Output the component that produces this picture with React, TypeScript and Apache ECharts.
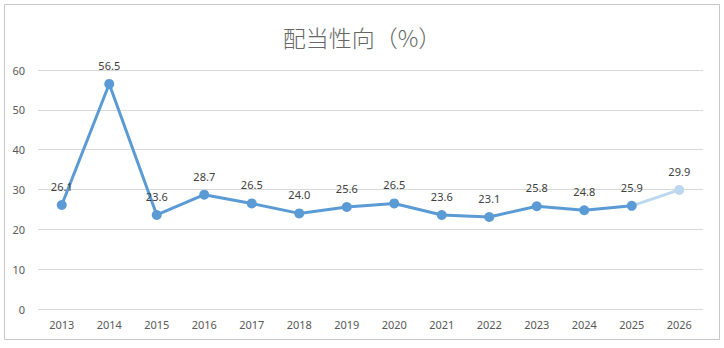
import React, { useEffect, useRef } from "react";
import * as echarts from "echarts";

const categories = ["2013", "2014", "2015", "2016", "2017", "2018", "2019", "2020", "2021", "2022", "2023", "2024", "2025", "2026"];
const actualValues = [26.1, 56.5, 23.6, 28.7, 26.5, 24.0, 25.6, 26.5, 23.6, 23.1, 25.8, 24.8, 25.9];
const forecastValues = [29.9];
const yTicks = [0, 10, 20, 30, 40, 50, 60];
const title = "配当性向（%）";

export default function App() {
  const ref = useRef<HTMLDivElement>(null);
  useEffect(() => {
    if (!ref.current) return;
    const chart = echarts.init(ref.current, undefined, { renderer: "svg" });
    const mainData: (number | null)[] = categories.map((_, i) => (i < actualValues.length ? actualValues[i] : null));
    const lastActualIdx = actualValues.length - 1;
    const forecastData: any[] = categories.map((_, i) => {
      if (i === lastActualIdx) return { value: actualValues[lastActualIdx], symbol: "none", label: { show: false } };
      if (i > lastActualIdx) return forecastValues[i - lastActualIdx - 1];
      return null;
    });
    const labelCfg = {
      show: true,
      position: "top" as const,
      distance: 8,
      fontSize: 11,
      color: "#404040",
      fontFamily: "'Noto Sans', sans-serif",
      formatter: (p: any) => Number(p.value).toFixed(1),
    };
    chart.setOption({
      animation: false,
      title: {
        text: title,
        left: "center",
        top: 20,
        textStyle: { fontSize: 23, fontWeight: 300, color: "#666666", fontFamily: "'Noto Sans CJK JP', sans-serif" },
      },
      graphic: [
        {
          type: "rect",
          shape: { x: 4.5, y: 4.5, width: 715, height: 335 },
          style: { fill: "none", stroke: "#c8c8c8", lineWidth: 1 },
          silent: true,
        },
      ],
      grid: { left: 38, right: 21, top: 70, bottom: 39, containLabel: false },
      xAxis: {
        type: "category",
        data: categories,
        boundaryGap: true,
        axisLine: { show: false },
        axisTick: { show: false },
        axisLabel: { fontSize: 11, color: "#595959", margin: 10, fontFamily: "'Noto Sans', sans-serif" },
      },
      yAxis: {
        type: "value",
        min: yTicks[0],
        max: yTicks[yTicks.length - 1],
        interval: 10,
        axisLine: { show: false },
        axisTick: { show: false },
        splitLine: { lineStyle: { color: "#d9d9d9", width: 1 } },
        axisLabel: { fontSize: 11, color: "#595959", margin: 13, fontFamily: "'Noto Sans', sans-serif" },
      },
      series: [
        {
          type: "line",
          data: forecastData,
          symbol: "circle",
          symbolSize: 10,
          connectNulls: false,
          lineStyle: { color: "#BDD7EE", width: 3 },
          itemStyle: { color: "#BDD7EE" },
          label: labelCfg,
          z: 1,
        },
        {
          type: "line",
          data: mainData,
          symbol: "circle",
          symbolSize: 10,
          lineStyle: { color: "#5B9BD5", width: 3 },
          itemStyle: { color: "#5B9BD5" },
          label: labelCfg,
          z: 2,
        },
      ],
    });
    return () => chart.dispose();
  }, []);
  return <div ref={ref} style={{ position: "absolute", left: 0, top: 0, width: 724, height: 348 }} />;
}
